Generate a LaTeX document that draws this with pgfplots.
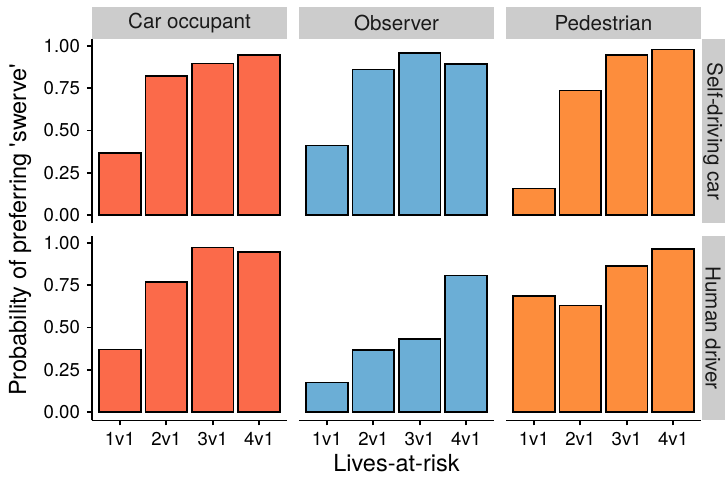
\documentclass[border=0pt]{standalone}
\usepackage{fontspec}
\setmainfont{TeX Gyre Heros}[Ligatures=TeXOff]
\usepackage{pgfplots}
\pgfplotsset{compat=1.18}
\definecolor{cRed}{HTML}{FB6A4A}
\definecolor{cBlue}{HTML}{6BAED6}
\definecolor{cOrange}{HTML}{FD8D3C}
\definecolor{stripgray}{HTML}{CCCCCC}
\definecolor{striptext}{HTML}{1A1A1A}

\pgfplotsset{
  panel/.style={
    scale only axis, width=97.5pt, height=92.25pt, anchor=south west,
    xmin=0.4, xmax=4.6, ymin=-0.0495, ymax=1.0395,
    axis x line*=bottom, axis y line*=left,
    axis line style={line width=0.9pt, black},
    xtick={1,2,3,4}, xticklabels={1v1,2v1,3v1,4v1},
    ytick={0,0.25,0.5,0.75,1},
    yticklabel={\pgfmathprintnumber[fixed,fixed zerofill,precision=2]{\tick}},
    tick align=outside, major tick length=2.5pt,
    tick style={line width=0.9pt, black},
    tick label style={font=\fontsize{9.3}{11}\selectfont, black},
    /pgf/number format/assume math mode=true,
    ybar, bar width=0.9,
  },
  nox/.style={x axis line style={draw=none}, xtick=\empty},
  noy/.style={y axis line style={draw=none}, ytick=\empty},
  barstyle/.style={draw=black, line width=0.85pt},
}

\begin{document}
\begin{tikzpicture}
\path[use as bounding box] (0,0) rectangle (362.5pt,241.5pt);

% column strips
\foreach \xa/\lab in {46/Car occupant, 149.5/Observer, 253/Pedestrian}{
  \fill[stripgray] (\xa pt,222pt) rectangle ++(97.5pt,16pt);
  \node[text=striptext, font=\fontsize{10.3}{12}\selectfont] at (\xa pt+48.75pt,230pt) {\lab};
}
% row strips
\fill[stripgray] (351pt,129.75pt) rectangle (362.5pt,222pt);
\node[text=striptext, rotate=-90, font=\fontsize{10.3}{12}\selectfont] at (356.5pt,175.9pt) {Self-driving car};
\fill[stripgray] (351pt,31.25pt) rectangle (362.5pt,123.5pt);
\node[text=striptext, rotate=-90, font=\fontsize{10.3}{12}\selectfont] at (356.5pt,77.4pt) {Human driver};

% Row 1: Self-driving car
\begin{axis}[panel, nox, at={(46pt,129.75pt)}]
\addplot[barstyle, fill=cRed] coordinates {(1,0.365) (2,0.82) (3,0.895) (4,0.945)};
\end{axis}
\begin{axis}[panel, nox, noy, at={(149.5pt,129.75pt)}]
\addplot[barstyle, fill=cBlue] coordinates {(1,0.41) (2,0.86) (3,0.955) (4,0.89)};
\end{axis}
\begin{axis}[panel, nox, noy, at={(253pt,129.75pt)}]
\addplot[barstyle, fill=cOrange] coordinates {(1,0.157) (2,0.735) (3,0.945) (4,0.978)};
\end{axis}

% Row 2: Human driver
\begin{axis}[panel, at={(46pt,31.25pt)}]
\addplot[barstyle, fill=cRed] coordinates {(1,0.369) (2,0.769) (3,0.972) (4,0.943)};
\end{axis}
\begin{axis}[panel, noy, at={(149.5pt,31.25pt)}]
\addplot[barstyle, fill=cBlue] coordinates {(1,0.174) (2,0.365) (3,0.43) (4,0.807)};
\end{axis}
\begin{axis}[panel, noy, at={(253pt,31.25pt)}]
\addplot[barstyle, fill=cOrange] coordinates {(1,0.684) (2,0.629) (3,0.862) (4,0.963)};
\end{axis}

% axis titles
\node[rotate=90, font=\fontsize{11.75}{14}\selectfont] at (10pt,126.6pt) {Probability of preferring 'swerve'};
\node[font=\fontsize{11.75}{14}\selectfont] at (198.25pt,10pt) {Lives-at-risk};
\end{tikzpicture}
\end{document}
